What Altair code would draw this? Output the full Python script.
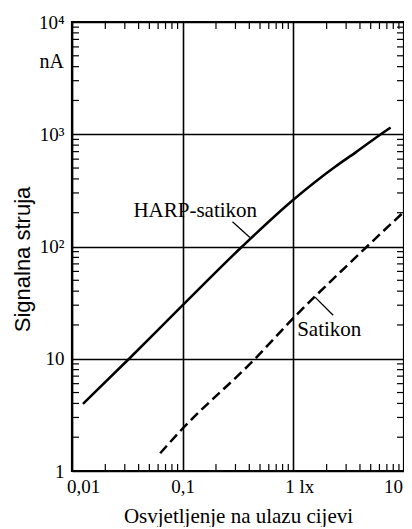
import altair as alt
import pandas as pd

# --- data ---
harp_x = [0.01256, 0.0328, 0.1, 0.345, 1.0, 2.37, 3.69, 6.17, 7.57]
harp_y = [3.97, 10, 30, 100, 261, 511, 693, 1000, 1150]

sat_x = [0.0626, 0.0936, 0.451, 1.0, 3.21, 10.0]
sat_y = [1.44, 2.23, 10, 23, 70.8, 204]

x_major = [0.01, 0.1, 1, 10]
x_labels = ["0,01", "0,1", "1 lx", "10"]
y_major = [1, 10, 100, 1000, 10000]
y_labels = ["1", "10", "10²", "10³", "10⁴"]

x_minor = [k * 10.0 ** d for d in (-2, -1, 0) for k in range(2, 10)]
y_minor = [k * 10.0 ** d for d in (0, 1, 2, 3) for k in range(2, 10)]

ann_text = ["HARP-satikon", "Satikon"]
ann_x = [0.130, 2.11]
ann_y = [184, 16.0]
lead_x = [0.282, 1.57]
lead_y = [166, 35.4]
lead_x2 = [0.405, 2.29]
lead_y2 = [120.5, 24.4]

unit_text = ["nA"]
unit_y = [4400]

W, H = 332, 449
SERIF = "Liberation Serif"
SANS = "Liberation Sans"

xs = alt.Scale(type="log", domain=[0.01, 10], nice=False)
ys = alt.Scale(type="log", domain=[1, 10000], nice=False)

x_expr = " : ".join(
    [f"datum.value < {v * 1.5} ? '{l}'" for v, l in zip(x_major[:-1], x_labels[:-1])]
    + [f"'{x_labels[-1]}'"]
)
y_expr = " : ".join(
    [f"datum.value < {v * 1.5} ? '{l}'" for v, l in zip(y_major[:-1], y_labels[:-1])]
    + [f"'{y_labels[-1]}'"]
)

x_axis = alt.Axis(
    values=x_major, labelExpr=x_expr, grid=True, gridColor="black", gridWidth=1.6,
    gridOpacity=1, domain=False, ticks=False, labelFont=SERIF, labelFontSize=19,
    labelColor="black", labelPadding=6, labelFlush=False, labelOverlap=False,
    labelOffset={"condition": [{"test": "datum.value < 0.05", "value": 11},
                               {"test": "datum.value > 0.5 && datum.value < 5", "value": 6},
                               {"test": "datum.value > 5", "value": -11}], "value": 0},
    title="Osvjetljenje na ulazu cijevi", titleFont=SERIF, titleFontSize=21,
    titleFontWeight="normal", titleColor="black", titleY=45, titleBaseline="middle",
)
y_axis = alt.Axis(
    values=y_major, labelExpr=y_expr, grid=True, gridColor="black", gridWidth=1.6,
    gridOpacity=1, domain=False, ticks=False, labelFont=SERIF, labelFontSize=19,
    labelColor="black", labelPadding=8, labelFlush=False, labelOverlap=False,
    title="Signalna struja", titleFont=SANS, titleFontSize=22, titleFontWeight="normal",
    titleColor="black", titleX=-50, titleY=237, titleAngle=270, titleAlign="center",
    titleBaseline="middle",
)

harp = pd.DataFrame({"x": harp_x, "y": harp_y})
sat = pd.DataFrame({"x": sat_x, "y": sat_y})

harp_line = alt.Chart(harp).mark_line(color="black", strokeWidth=2.5, interpolate="monotone").encode(
    x=alt.X("x:Q", scale=xs, axis=x_axis),
    y=alt.Y("y:Q", scale=ys, axis=y_axis),
)
sat_line = alt.Chart(sat).mark_line(color="black", strokeWidth=2.5, strokeDash=[10, 5],
                                    interpolate="monotone").encode(
    x=alt.X("x:Q", scale=xs), y=alt.Y("y:Q", scale=ys))

xm = pd.DataFrame({"x": x_minor})
ym = pd.DataFrame({"y": y_minor})
tick_len = 7
bottom_ticks = alt.Chart(xm).mark_rule(color="black", strokeWidth=1.2).encode(
    x=alt.X("x:Q", scale=xs), y=alt.value(H), y2=alt.value(H - tick_len))
top_ticks = alt.Chart(xm).mark_rule(color="black", strokeWidth=1.2).encode(
    x=alt.X("x:Q", scale=xs), y=alt.value(0), y2=alt.value(tick_len))
left_ticks = alt.Chart(ym).mark_rule(color="black", strokeWidth=1.2).encode(
    y=alt.Y("y:Q", scale=ys), x=alt.value(0), x2=alt.value(tick_len))
right_ticks = alt.Chart(ym).mark_rule(color="black", strokeWidth=1.2).encode(
    y=alt.Y("y:Q", scale=ys), x=alt.value(W), x2=alt.value(W - tick_len))

ann = pd.DataFrame({"t": ann_text, "x": ann_x, "y": ann_y})
ann_marks = alt.Chart(ann).mark_text(font=SERIF, fontSize=21, color="black", align="center",
                                     baseline="alphabetic").encode(
    x=alt.X("x:Q", scale=xs), y=alt.Y("y:Q", scale=ys), text="t:N")

lead = pd.DataFrame({"x": lead_x, "y": lead_y, "x2": lead_x2, "y2": lead_y2})
lead_marks = alt.Chart(lead).mark_rule(color="black", strokeWidth=1.3).encode(
    x=alt.X("x:Q", scale=xs), y=alt.Y("y:Q", scale=ys), x2="x2:Q", y2="y2:Q")

unit = pd.DataFrame({"t": unit_text, "y": unit_y})
unit_mark = alt.Chart(unit).mark_text(font=SERIF, fontSize=20, color="black", align="right",
                                      baseline="middle").encode(
    x=alt.value(-8), y=alt.Y("y:Q", scale=ys), text="t:N")

chart = alt.layer(
    harp_line, sat_line, bottom_ticks, top_ticks, left_ticks, right_ticks,
    lead_marks, ann_marks, unit_mark,
).properties(
    width=W, height=H,
    autosize=alt.AutoSizeParams(type="none"),
    padding={"left": 64, "top": 14, "right": 0, "bottom": 56},
    background="white",
).configure_view(stroke="black", strokeWidth=2.2)

chart.save("out.html", embed_options={"renderer": "svg", "actions": False})
